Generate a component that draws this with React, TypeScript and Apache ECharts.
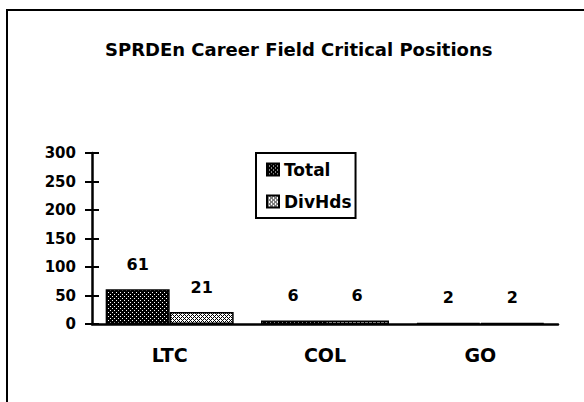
import React, { useEffect, useRef } from "react";
import * as echarts from "echarts";

const categories = ["LTC", "COL", "GO"];
const totalValues = [61, 6, 2];
const divHdsValues = [21, 6, 2];
const seriesNames = ["Total", "DivHds"];
const yTicks = [0, 50, 100, 150, 200, 250, 300];

const FONT = "DejaVu Sans";

function makePattern(kind: "dark" | "light"): string {
  const c = document.createElement("canvas");
  c.width = 4;
  c.height = 4;
  const ctx = c.getContext("2d")!;
  if (kind === "dark") {
    ctx.fillStyle = "#000";
    ctx.fillRect(0, 0, 4, 4);
    ctx.fillStyle = "#fff";
    ctx.fillRect(0, 0, 1, 1);
    ctx.fillRect(2, 2, 1, 1);
  } else {
    ctx.fillStyle = "#fff";
    ctx.fillRect(0, 0, 4, 4);
    ctx.fillStyle = "#000";
    for (let x = 0; x < 4; x++) {
      for (let y = 0; y < 4; y++) {
        if ((x + y) % 2 === 0 && !((x === 0 && y === 0) || (x === 2 && y === 2))) {
          ctx.fillRect(x, y, 1, 1);
        }
      }
    }
  }
  return c.toDataURL();
}

export default function App() {
  const ref = useRef<HTMLDivElement>(null);

  useEffect(() => {
    if (!ref.current) return;
    const chart = echarts.init(ref.current, null, { renderer: "svg" });
    const darkPat = { image: makePattern("dark"), repeat: "repeat" };
    const lightPat = { image: makePattern("light"), repeat: "repeat" };
    const yMin = yTicks[0];
    const yMax = yTicks[yTicks.length - 1];
    const yInt = yTicks[1] - yTicks[0];

    const labelStyle = {
      show: true,
      position: "top",
      distance: 17,
      fontFamily: FONT,
      fontWeight: "bold",
      fontSize: 16,
      color: "#000",
    };

    chart.setOption({
      animation: false,
      backgroundColor: "#fff",
      title: {
        text: "SPRDEn Career Field Critical Positions",
        left: 105,
        top: 40,
        padding: 0,
        textStyle: { fontFamily: FONT, fontWeight: "bold", fontSize: 18, color: "#000" },
      },
      graphic: [
        {
          type: "rect",
          shape: { x: 7, y: 10, width: 620, height: 430 },
          style: { fill: "none", stroke: "#000", lineWidth: 2 },
          silent: true,
        },
      ],
      legend: {
        orient: "vertical",
        left: 256,
        top: 153,
        padding: [8, 4, 8, 10],
        itemWidth: 12,
        itemHeight: 12,
        itemGap: 15,
        borderColor: "#000",
        borderWidth: 2,
        icon: "rect",
        data: seriesNames,
        textStyle: { fontFamily: FONT, fontWeight: "bold", fontSize: 17, color: "#000" },
      },
      grid: { left: 92, right: 26, top: 153, bottom: 78, containLabel: false },
      xAxis: {
        type: "category",
        data: categories,
        axisLine: { show: true, lineStyle: { color: "#000", width: 2.5 } },
        axisTick: { show: false },
        axisLabel: {
          margin: 21,
          fontFamily: FONT,
          fontWeight: "bold",
          fontSize: 19,
          color: "#000",
        },
      },
      yAxis: [
        {
          type: "value",
          min: yMin,
          max: yMax,
          interval: yInt,
          splitLine: { show: false },
          axisLine: { show: true, lineStyle: { color: "#000", width: 2.5 } },
          axisTick: { show: true, length: 7, lineStyle: { color: "#000", width: 2 } },
          axisLabel: {
            margin: 16,
            fontFamily: FONT,
            fontWeight: "bold",
            fontSize: 15,
            color: "#000",
          },
        },
        {
          type: "value",
          position: "left",
          min: yMin,
          max: yMax,
          interval: yInt,
          splitLine: { show: false },
          axisLine: { show: false },
          axisTick: { show: true, inside: true, length: 7, lineStyle: { color: "#000", width: 2 } },
          axisLabel: { show: false },
        },
      ],
      series: [
        {
          name: seriesNames[0],
          type: "bar",
          data: totalValues,
          barGap: "0%",
          barCategoryGap: "17.6%",
          itemStyle: { color: darkPat, borderColor: "#000", borderWidth: 1.5 },
          label: labelStyle,
        },
        {
          name: seriesNames[1],
          type: "bar",
          data: divHdsValues,
          barGap: "0%",
          barCategoryGap: "17.6%",
          itemStyle: { color: lightPat, borderColor: "#000", borderWidth: 1.5 },
          label: labelStyle,
        },
      ],
    });
    return () => chart.dispose();
  }, []);

  return (
    <div
      ref={ref}
      style={{ position: "fixed", left: 0, top: 0, width: 584, height: 402 }}
    />
  );
}
